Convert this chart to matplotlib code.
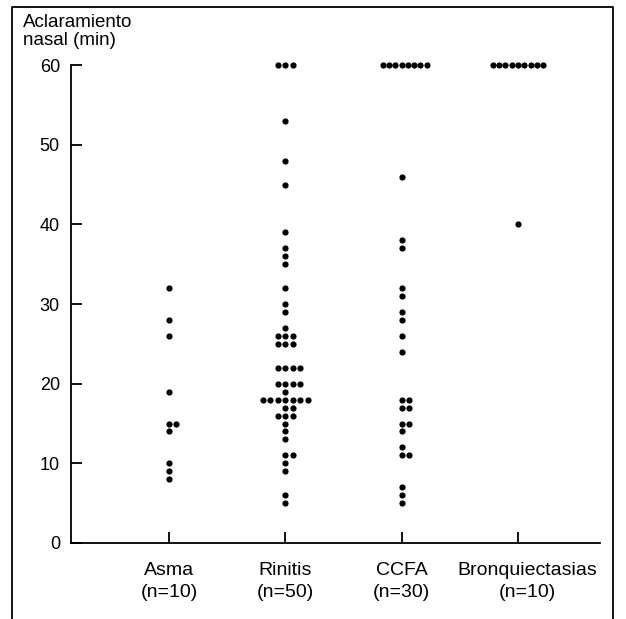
import numpy as np
import matplotlib.pyplot as plt
from matplotlib.lines import Line2D
from matplotlib.transforms import ScaledTranslation

plt.rcParams['font.family'] = ['Liberation Sans', 'DejaVu Sans']

categories = ["Asma\n(n=10)", "Rinitis\n(n=50)", "CCFA\n(n=30)", "Bronquiectasias\n(n=10)"]
asma = [32, 28, 26, 19, 15, 15, 14, 10, 9, 8]
rinitis = [60, 60, 60, 53, 48, 45, 39, 37, 36, 35, 32, 30, 29, 27,
           26, 26, 26, 25, 25, 25, 22, 22, 22, 22, 20, 20, 20, 20, 19,
           18, 18, 18, 18, 18, 18, 18, 17, 17, 16, 16, 16, 15, 14, 13,
           11, 11, 10, 9, 6, 5]
ccfa = [60, 60, 60, 60, 60, 60, 60, 60, 46, 38, 37, 32, 31, 29, 28, 26, 24,
        18, 18, 17, 17, 15, 15, 14, 12, 11, 11, 7, 6, 5]
bronq = [60, 60, 60, 60, 60, 60, 60, 60, 60, 40]
groups = [asma, rinitis, ccfa, bronq]
yticks = [0, 10, 20, 30, 40, 50, 60]

fig = plt.figure(figsize=(6.26, 6.19), dpi=100)
ax = fig.add_axes([0.1134, 0.1228, 0.845, 0.772])

# dot plot: equal values are spread side by side
for i, vals in enumerate(groups):
    pos = i + 1
    vals = np.array(vals)
    for v in np.unique(vals):
        n = np.sum(vals == v)
        step = 0.064 if n <= 7 else 0.054
        offs = (np.arange(n) - (n - 1) // 2) * step
        ax.scatter(pos + offs, [v] * n, s=20, color='black', zorder=3,
                   clip_on=False, linewidths=0)

ax.set_xlim(0.157, 4.705)
ax.set_ylim(0, 60)
ax.set_yticks(yticks)
ax.set_xticks(range(1, 5))
ax.set_xticklabels(categories, linespacing=1.35, fontsize=14)
ax.spines[['top', 'right']].set_visible(False)
ax.spines[['left', 'bottom']].set_linewidth(1.3)
ax.tick_params(axis='both', direction='in', length=8, width=1.3)
ax.tick_params(axis='y', pad=8, labelsize=13)
ax.tick_params(axis='x', pad=14)

# the long last label sits a bit right of its tick in the original
lab = ax.get_xticklabels()[3]
lab.set_transform(lab.get_transform() + ScaledTranslation(0.09, 0, fig.dpi_scale_trans))

fig.text(23 / 626, 1 - 14 / 619, "Aclaramiento\nnasal (min)", ha='left',
         va='top', fontsize=13.5, linespacing=1.05)

# frame around the figure (open at the bottom)
fig.add_artist(Line2D([12 / 626, 12 / 626, 613 / 626, 613 / 626],
                      [0, 1 - 7 / 619, 1 - 7 / 619, 0],
                      transform=fig.transFigure, color='black', lw=1.3))

fig.savefig("out.png", dpi=100)
